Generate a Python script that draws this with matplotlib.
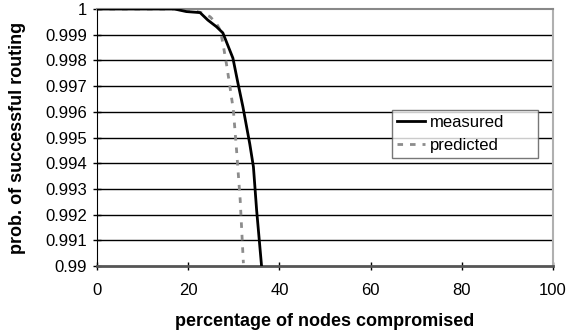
import matplotlib.pyplot as plt
import numpy as np

plt.rcParams['font.family'] = ['Liberation Sans', 'DejaVu Sans']

# measured curve
measured_x = [0, 10, 17, 19.6, 22.6, 24.3, 26.2, 27.6, 29.8, 30.9, 32, 33.5, 34.3, 35, 36.1]
measured_y = [1, 1, 1, 0.9999, 0.99986, 0.99957, 0.99931, 0.99907, 0.99809, 0.99712,
              0.99619, 0.99475, 0.99386, 0.99218, 0.98997]

# predicted curve
predicted_x = [0, 10, 20, 23.2, 24.8, 26.2, 27, 27.6, 28.5, 29.3, 29.9, 30.6, 31.4, 32.1]
predicted_y = [1, 1, 1, 0.99984, 0.9997, 0.99944, 0.99918, 0.99868, 0.99774, 0.9968,
               0.99607, 0.99451, 0.99257, 0.99011]

yticks = [0.99, 0.991, 0.992, 0.993, 0.994, 0.995, 0.996, 0.997, 0.998, 0.999, 1.0]
ylabels = ['0.99', '0.991', '0.992', '0.993', '0.994', '0.995', '0.996', '0.997', '0.998', '0.999', '1']
xticks = [0, 20, 40, 60, 80, 100]

fig = plt.figure(figsize=(5.68, 3.35), dpi=100)
ax = fig.add_axes([0.1708, 0.206, 0.8028, 0.7671])

for t in yticks[1:-1]:
    ax.axhline(t, color='black', lw=1, zorder=1)

ax.plot(measured_x, measured_y, color='black', lw=2, label='measured', zorder=3)
ax.plot(predicted_x, predicted_y, color='#8c8c8c', lw=2, dashes=(2, 2.5), label='predicted', zorder=2)

ax.set_xlim(0, 100)
ax.set_ylim(0.99, 1.0)
ax.set_xticks(xticks)
ax.set_xticklabels([str(x) for x in xticks], fontsize=12)
ax.set_yticks(yticks)
ax.set_yticklabels(ylabels, fontsize=12)
ax.tick_params(axis='y', direction='inout', length=6, width=1, pad=4)
ax.tick_params(axis='x', direction='inout', length=6, width=1, pad=9)

ax.spines['left'].set_color('black')
ax.spines['bottom'].set_color('#555555')
ax.spines['bottom'].set_linewidth(2)
ax.spines['top'].set_color('#888888')
ax.spines['top'].set_linewidth(1.5)
ax.spines['right'].set_color('#b0b0b0')
ax.spines['right'].set_linewidth(1.5)

ax.set_xlabel('percentage of nodes compromised', fontsize=13, fontweight='bold', labelpad=11)
ax.set_ylabel('prob. of successful routing', fontsize=13, fontweight='bold', labelpad=14)

leg = ax.legend(loc='center left', bbox_to_anchor=(0.647, 0.416, 0.32, 0.195), mode='expand',
                fontsize=12, frameon=True, fancybox=False, handlelength=1.7, handletextpad=0.3,
                borderaxespad=0, labelspacing=0.5, borderpad=0.3)
leg.get_frame().set_edgecolor('#555555')
leg.get_frame().set_linewidth(1)

fig.savefig('out.png', dpi=100)
